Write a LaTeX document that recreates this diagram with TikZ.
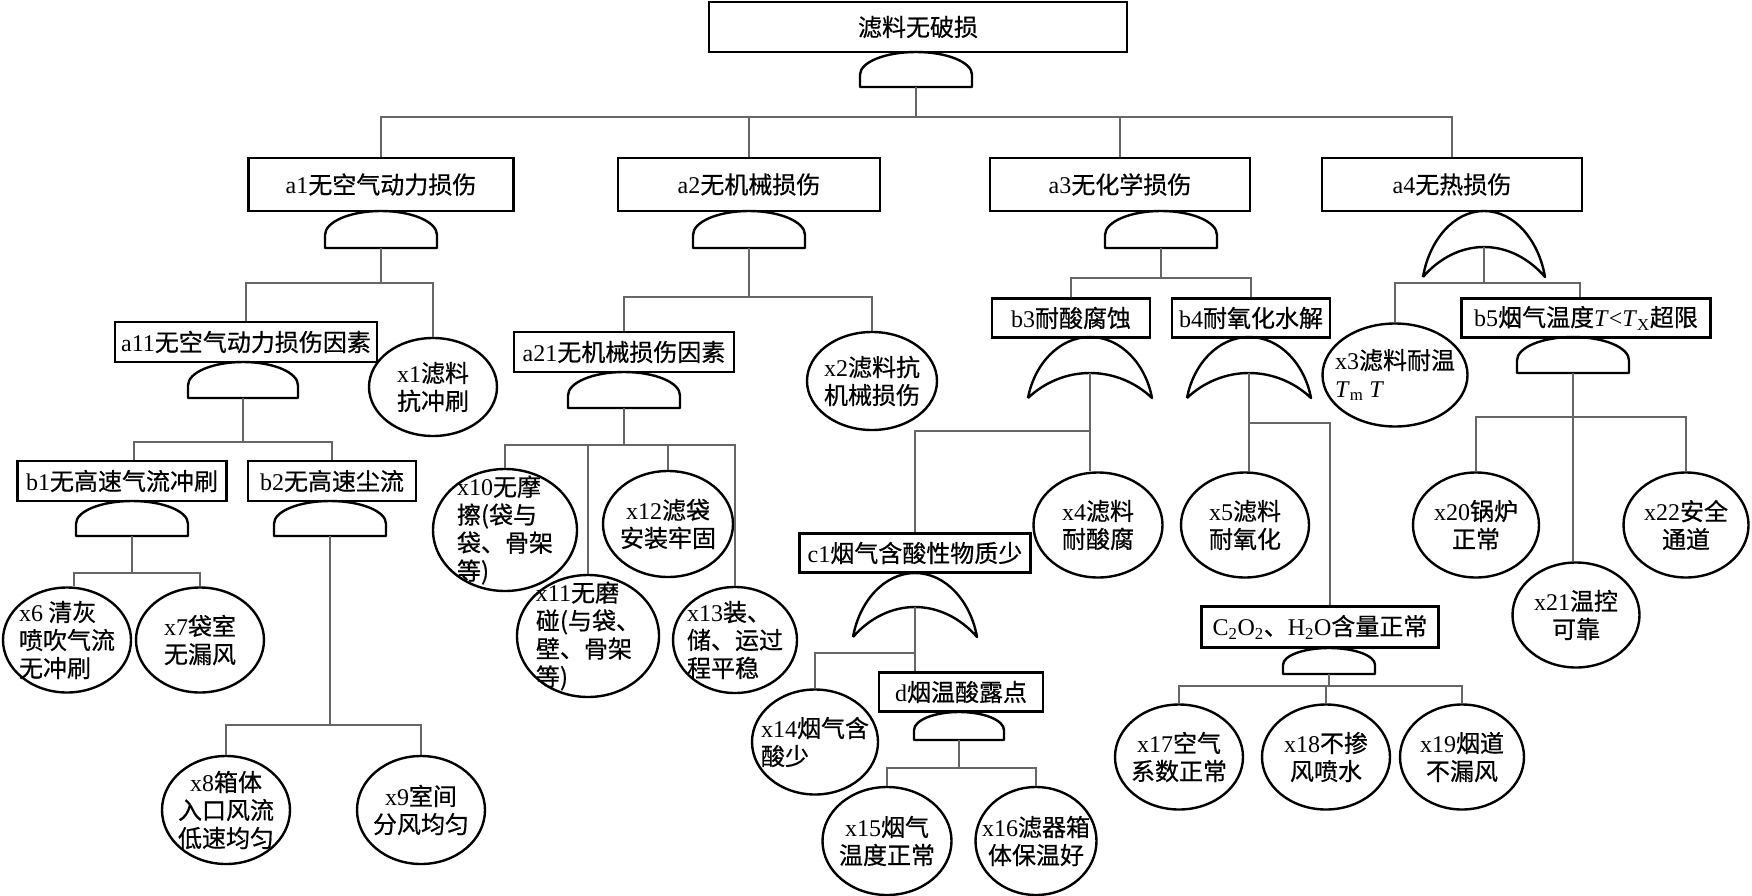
\documentclass[tikz,border=0pt]{standalone}
\usepackage{fontspec}
\setmainfont{Liberation Serif}
\newfontfamily\cjk{Noto Sans CJK SC}[FakeBold=0.6]
\usetikzlibrary{shapes.geometric}
\newcommand{\lat}[1]{{\rmfamily #1}}
\newcommand{\treefont}{\cjk\fontsize{24}{28}\selectfont}
\tikzset{
  gbox/.style 2 args={draw,line width=2.6pt,minimum width=#1,minimum height=#2,
                      inner sep=0pt,font=\treefont},
  ev/.style 2 args={draw,ellipse,line width=2.4pt,minimum width=#1,minimum height=#2,
                    inner sep=-30pt,align=center,font=\treefont},
  evl/.style 2 args={ev={#1}{#2},align=left},
  conn/.style={draw=black!60,line width=1.6pt},
  gateline/.style={line width=2.4pt,line join=round},
  pics/andgate/.style args={#1/#2}{code={
    \draw[gateline] (-#1,#2) -- (-#1,{0.65*#2})
      arc[start angle=180,end angle=360,x radius=#1,y radius={0.65*#2}]
      -- (#1,#2) -- cycle;
    \coordinate (-out) at (0,#2);
  }},
  pics/orgate/.style args={#1/#2/#3}{code={
    \draw[gateline] (-#1,#2) .. controls ({-0.9*#1},{0.45*#2}) and ({-0.5*#1},0) .. (0,0)
      .. controls ({0.5*#1},0) and ({0.9*#1},{0.45*#2}) .. (#1,#2)
      .. controls ({0.73*#1},{#2-0.64*(#2-#3)}) and ({0.37*#1},#3) .. (0,#3)
      .. controls ({-0.37*#1},#3) and ({-0.73*#1},{#2-0.64*(#2-#3)}) .. (-#1,#2);
    \coordinate (-out) at (0,#3);
  }},
}

\begin{document}
\begin{tikzpicture}[x=1pt,y=-1pt]
\path[use as bounding box,fill=white] (0,0) rectangle (1752,896);

% ---------------------------------------------------------------- top event
\node[gbox={418pt}{50pt}] (top) at (918,27) {滤料无破损};
\pic (gtop) at (916,52) {andgate=56/35};

% ---------------------------------------------------------------- level a
\node[gbox={265pt}{53pt}] (a1) at (381,184.5) {\lat{a1}无空气动力损伤};
\node[gbox={262pt}{53pt}] (a2) at (749,184.5) {\lat{a2}无机械损伤};
\node[gbox={260pt}{53pt}] (a3) at (1120,184.5) {\lat{a3}无化学损伤};
\node[gbox={260pt}{53pt}] (a4) at (1452,184.5) {\lat{a4}无热损伤};
\pic (ga1) at (381,211) {andgate=56/37};
\pic (ga2) at (749,211) {andgate=56/37};
\pic (ga3) at (1161,211) {andgate=56/37};
\pic (ga4) at (1484,211) {orgate=61/66/36};

% ---------------------------------------------------------------- a1 branch
\node[gbox={262pt}{40pt}] (a11) at (246,342) {\lat{a11}无空气动力损伤因素};
\node[ev={128pt}{98pt}] (x1) at (433,387) {\lat{x1}滤料\\抗冲刷};
\pic (ga11) at (243,362) {andgate=55/36};
\node[gbox={209pt}{40pt}] (b1) at (122,481) {\lat{b1}无高速气流冲刷};
\node[gbox={168pt}{40pt}] (b2) at (332,481) {\lat{b2}无高速尘流};
\pic (gb1) at (132,501) {andgate=56/35};
\pic (gb2) at (330,501) {andgate=56/35};
\node[evl={128pt}{105pt}] (x6) at (67,640) {\lat{x6} 清灰\\喷吹气流\\无冲刷};
\node[ev={128pt}{105pt}] (x7) at (200,640) {\lat{x7}袋室\\无漏风};
\node[ev={128pt}{108pt}] (x8) at (226,810) {\lat{x8}箱体\\入口风流\\低速均匀};
\node[ev={128pt}{108pt}] (x9) at (421,810) {\lat{x9}室间\\分风均匀};

% ---------------------------------------------------------------- a2 branch
\node[gbox={220pt}{40pt}] (a21) at (624,352) {\lat{a21}无机械损伤因素};
\node[ev={130pt}{98pt}] (x2) at (872,381) {\lat{x2}滤料抗\\机械损伤};
\pic (ga21) at (624,372) {andgate=56/36};
\node[evl={144pt}{122pt}] (x10) at (505,530) {\lat{x10}无摩\\擦(袋与\\袋、骨架\\等)};
\node[evl={142pt}{122pt}] (x11) at (588,636) {\lat{x11}无磨\\碰(与袋、\\壁、骨架\\等)};
\node[ev={130pt}{106pt}] (x12) at (668,524) {\lat{x12}滤袋\\安装牢固};
\node[evl={124pt}{106pt}] (x13) at (735,640) {\lat{x13}装、\\储、运过\\程平稳};

% ---------------------------------------------------------------- a3 branch
\node[gbox={158pt}{39pt}] (b3) at (1071,318) {\lat{b3}耐酸腐蚀};
\node[gbox={158pt}{39pt}] (b4) at (1251,318) {\lat{b4}耐氧化水解};
\pic (gb3) at (1090,337) {orgate=62/61/36};
\pic (gb4) at (1249,337) {orgate=62/61/36};
\node[ev={129pt}{105pt}] (x4) at (1098,525) {\lat{x4}滤料\\耐酸腐};
\node[ev={128pt}{105pt}] (x5) at (1245,525) {\lat{x5}滤料\\耐氧化};
\node[gbox={231pt}{39pt}] (c1) at (915,553) {\lat{c1}烟气含酸性物质少};
\pic (gc1) at (915,573) {orgate=62/64/34};
\node[evl={126pt}{105pt}] (x14) at (815,742) {\lat{x14}烟气含\\酸少};
\node[gbox={164pt}{39pt}] (dacid) at (961,692) {\lat{d}烟温酸露点};
\pic (gd) at (959,712) {andgate=45/28};
\node[ev={129pt}{108pt}] (x15) at (887,841) {\lat{x15}烟气\\温度正常};
\node[ev={121pt}{108pt}] (x16) at (1036,841) {\lat{x16}滤器箱\\体保温好};
\node[gbox={237pt}{41pt}] (water) at (1320,627)
  {\lat{C\textsubscript{2}O\textsubscript{2}}、\lat{H\textsubscript{2}O}含量正常};
\pic (gw) at (1329,648) {andgate=46/26};
\node[ev={128pt}{105pt}] (x17) at (1179,757) {\lat{x17}空气\\系数正常};
\node[ev={128pt}{105pt}] (x18) at (1326,757) {\lat{x18}不掺\\风喷水};
\node[ev={124pt}{105pt}] (x19) at (1462,757) {\lat{x19}烟道\\不漏风};

% ---------------------------------------------------------------- a4 branch
\node[evl={145pt}{103pt}] (x3) at (1395,375)
  {\lat{x3}滤料耐温\\\lat{\textit{T}\textsubscript{m} \textit{T}}};
\node[gbox={249pt}{39pt}] (b5) at (1586,318)
  {\lat{b5}烟气温度\lat{\textit{T}<\textit{T}\textsubscript{X}}超限};
\pic (gb5) at (1573,337) {andgate=56/36};
\node[ev={126pt}{105pt}] (x20) at (1476,525) {\lat{x20}锅炉\\正常};
\node[ev={127pt}{105pt}] (x21) at (1576,615) {\lat{x21}温控\\可靠};
\node[ev={125pt}{105pt}] (x22) at (1686,525) {\lat{x22}安全\\通道};

% ---------------------------------------------------------------- connectors
\foreach \n in {a1,a2,a3,a4}
  \draw[conn] (gtop-out) -- ++(0,30) -| (\n.north);

\draw[conn] (ga1-out) -- ++(0,35) -| (a11.north);
\draw[conn] (ga1-out) -- ++(0,35) -| (x1.north);
\draw[conn] (ga11-out) -- ++(0,44) -| ([xshift=12pt]b1.north);
\draw[conn] (ga11-out) -- ++(0,44) -| (b2.north);
\draw[conn] (gb1-out) -- ++(0,37) -| ([xshift=7pt]x6.north);
\draw[conn] (gb1-out) -- ++(0,37) -| (x7.north);
\draw[conn] (gb2-out) -- ++(0,189) -| (x8.north);
\draw[conn] (gb2-out) -- ++(0,189) -| (x9.north);

\draw[conn] (ga2-out) -- ++(0,49) -| (a21.north);
\draw[conn] (ga2-out) -- ++(0,49) -| (x2.north);
\foreach \n in {x10,x11,x12,x13}
  \draw[conn] (ga21-out) -- ++(0,37) -| (\n.north);

\draw[conn] (ga3-out) -- ++(0,30) -| (b3.north);
\draw[conn] (ga3-out) -- ++(0,30) -| (b4.north);
\draw[conn] (gb3-out) -- (gb3-out |- x4.north);
\draw[conn] (gb3-out) -- ++(0,58) -| (c1.north);
\draw[conn] (gc1-out) -- (gc1-out |- dacid.north);
\draw[conn] (gc1-out) -- ++(0,46) -| (x14.north);
\draw[conn] (gd-out) -- ++(0,28) -| (x15.north);
\draw[conn] (gd-out) -- ++(0,28) -| (x16.north);
\draw[conn] (gb4-out) -- (gb4-out |- x5.north);
\draw[conn] (gb4-out) -- ++(0,50) -| ([xshift=10pt]water.north);
\foreach \n in {x17,x18,x19}
  \draw[conn] (gw-out) -- ++(0,12) -| (\n.north);

\draw[conn] (ga4-out) -- ++(0,36) -| (x3.north);
\draw[conn] (ga4-out) -- ++(0,36) -| ([xshift=-6pt]b5.north);
\draw[conn] (gb5-out) -- (gb5-out |- x21.north);
\draw[conn] (gb5-out) -- ++(0,44) -| (x20.north);
\draw[conn] (gb5-out) -- ++(0,44) -| (x22.north);

\end{tikzpicture}
\end{document}
